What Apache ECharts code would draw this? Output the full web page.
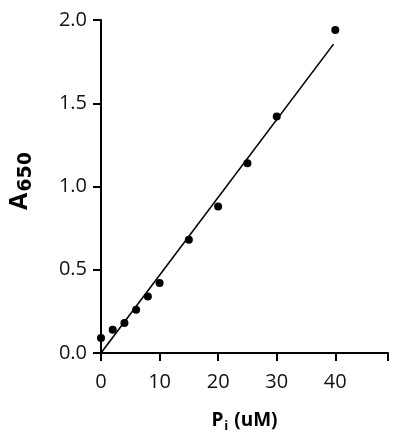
<!DOCTYPE html>
<html>
<head>
<meta charset="utf-8">
<script src="https://cdn.jsdelivr.net/npm/echarts@6/dist/echarts.min.js"></script>
<style>
  html, body { margin: 0; padding: 0; background: #fff; }
  #chart-container { width: 400px; height: 443px; }
</style>
</head>
<body>
<div id="chart-container"></div>
<script>
// measured standards: phosphate (uM) vs absorbance at 650 nm
const piConc = [0, 2, 4, 6, 8, 10, 15, 20, 25, 30, 40];
const absorbance = [0.09, 0.14, 0.18, 0.26, 0.34, 0.42, 0.68, 0.88, 1.14, 1.42, 1.94];

// linear fit line end points
const fitX = [0, 39.7];
const fitY = [0.0, 1.855];

const xTicks = [0, 10, 20, 30, 40];
const yTicks = [0, 0.5, 1.0, 1.5, 2.0];

const dom = document.getElementById("chart-container");
const chart = echarts.init(dom, null, { renderer: "canvas" });

const labelFont = "'Open Sans', 'Liberation Sans', sans-serif";

// wide bold digits for the 650 subscript
const subStyle = {
  fontFamily: "'DejaVu Sans', sans-serif",
  fontWeight: "bold",
  fontSize: 19,
  color: "#000",
  padding: [13, 1, 0, 1],
};

const option = {
  animation: false,
  grid: {
    left: 101,
    right: 12,
    top: 20,
    bottom: 90,
    containLabel: false,
    outerBoundsMode: "none",
  },
  xAxis: {
    type: "value",
    min: 0,
    max: 49,
    interval: 10,
    name: "{p|P}{s|i}{p| (uM)}",
    nameLocation: "middle",
    nameGap: 56,
    nameTextStyle: {
      rich: {
        p: { fontFamily: labelFont, fontWeight: "bold", fontSize: 19, color: "#000" },
        s: { fontFamily: labelFont, fontWeight: "bold", fontSize: 13, color: "#000", padding: [11, 1, 0, 1] },
      },
    },
    splitLine: { show: false },
    axisLine: { show: true, onZero: false, lineStyle: { color: "#000", width: 2 } },
    axisTick: { show: true, length: 8, lineStyle: { color: "#000", width: 2 } },
    axisLabel: {
      margin: 19,
      fontFamily: labelFont,
      fontSize: 20,
      color: "#111",
      formatter: (v) => (xTicks.includes(v) ? String(v) : ""),
    },
  },
  yAxis: {
    type: "value",
    min: 0,
    max: 2,
    interval: 0.5,
    name: "{a|A}{s|650}",
    nameLocation: "middle",
    nameRotate: 90,
    nameGap: 65,
    nameTextStyle: {
      padding: [0, 0, 0, 12],
      rich: {
        a: { fontFamily: labelFont, fontWeight: "bold", fontSize: 25, color: "#000" },
        s: subStyle,
      },
    },
    splitLine: { show: false },
    axisLine: { show: true, onZero: false, lineStyle: { color: "#000", width: 2 } },
    axisTick: { show: true, length: 8, lineStyle: { color: "#000", width: 2 } },
    axisLabel: {
      margin: 14,
      fontFamily: labelFont,
      fontSize: 20,
      color: "#111",
      formatter: (v) => (yTicks.includes(v) ? v.toFixed(1) : ""),
    },
  },
  series: [
    {
      name: "Fit",
      type: "line",
      data: fitX.map((x, i) => [x, fitY[i]]),
      showSymbol: false,
      lineStyle: { color: "#000", width: 1.6 },
      z: 2,
    },
    {
      name: "Standards",
      type: "scatter",
      data: piConc.map((x, i) => [x, absorbance[i]]),
      symbol: "circle",
      symbolSize: 8,
      itemStyle: { color: "#000", opacity: 1 },
      z: 3,
    },
  ],
};

chart.setOption(option);
window.addEventListener("resize", () => chart.resize());
</script>
</body>
</html>
